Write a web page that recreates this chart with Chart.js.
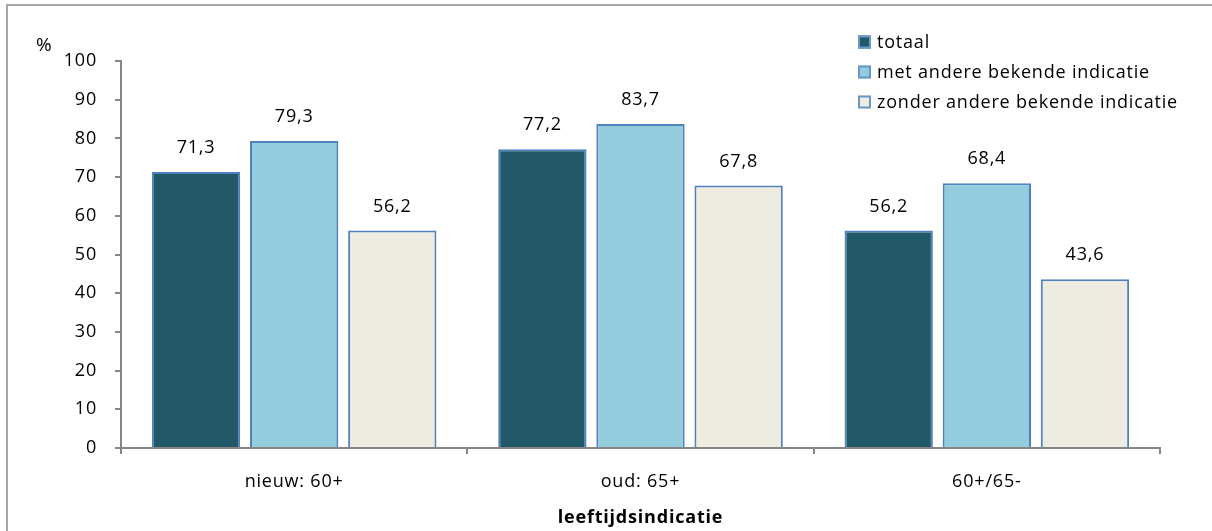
<!DOCTYPE html>
<html>
<head>
<meta charset="utf-8">
<script src="https://cdn.jsdelivr.net/npm/chart.js@4.4.1/dist/chart.umd.min.js"></script>
<style>
  html, body { margin: 0; padding: 0; background: #fff; overflow: hidden; }
  #wrap { position: relative; width: 1212px; height: 531px; }
  #frame { position: absolute; left: 6px; top: 4px; width: 1300px; height: 600px;
           border: 2px solid #a6a6a6; box-sizing: border-box; pointer-events: none; }
  canvas { position: absolute; left: 0; top: 0; }
</style>
</head>
<body>
<div id="wrap">
  <canvas id="c" width="1212" height="531"></canvas>
  <div id="frame"></div>
</div>
<script>
// Categories (age indication) and the three series, in percent
const categories = ['nieuw: 60+', 'oud: 65+', '60+/65-'];
const seriesNames = ['totaal', 'met andere bekende indicatie', 'zonder andere bekende indicatie'];
const totaal = [71.3, 77.2, 56.2];
const metIndicatie = [79.3, 83.7, 68.4];
const zonderIndicatie = [56.2, 67.8, 43.6];
const yTicks = [0, 10, 20, 30, 40, 50, 60, 70, 80, 90, 100];

const FONT = "'Open Sans', sans-serif";
const fills = ['#215968', '#93CDDD', '#EEECE1'];
const edge = '#4F81BD';
const axisGrey = '#868686';

const fmt = v => v.toFixed(1).replace('.', ',');

// Slightly open letter spacing for all chart text
const spacing = {
  id: 'spacing',
  beforeDraw(chart) { chart.ctx.letterSpacing = '0.8px'; }
};

// Value labels above each bar, plus the "%" unit and the legend
const decorations = {
  id: 'decorations',
  afterDatasetsDraw(chart) {
    const ctx = chart.ctx;
    ctx.save();
    ctx.letterSpacing = '0.8px';
    ctx.fillStyle = '#000';
    ctx.font = '18px ' + FONT;
    ctx.textAlign = 'center';
    ctx.textBaseline = 'alphabetic';
    chart.data.datasets.forEach((ds, i) => {
      chart.getDatasetMeta(i).data.forEach((bar, j) => {
        ctx.fillText(fmt(ds.data[j]), bar.x, bar.y - 19);
      });
    });

    // unit label
    ctx.font = '19px ' + FONT;
    ctx.textAlign = 'left';
    ctx.textBaseline = 'middle';
    ctx.fillText('%', 36, 46);

    // legend
    ctx.font = '18px ' + FONT;
    const lx = 858, ly = [42, 72, 102];
    chart.data.datasets.forEach((ds, i) => {
      ctx.fillStyle = ds.backgroundColor;
      ctx.fillRect(lx, ly[i] - 6.5, 13, 13);
      ctx.strokeStyle = '#6b96c8';
      ctx.lineWidth = 2;
      ctx.strokeRect(lx + 1, ly[i] - 5.5, 11, 11);
      ctx.fillStyle = '#000';
      ctx.fillText(ds.label, 877, ly[i] + 1);
    });
    ctx.restore();
  }
};

new Chart(document.getElementById('c'), {
  type: 'bar',
  data: {
    labels: categories,
    datasets: [totaal, metIndicatie, zonderIndicatie].map((d, i) => ({
      label: seriesNames[i],
      data: d,
      backgroundColor: fills[i],
      borderColor: edge,
      borderWidth: 2,
      borderSkipped: 'bottom',
      categoryPercentage: 0.85,
      barPercentage: 0.9
    }))
  },
  options: {
    responsive: false,
    animation: false,
    devicePixelRatio: 1,
    layout: { padding: { left: 0, right: 52, top: 61, bottom: 0 } },
    plugins: { legend: { display: false }, tooltip: { enabled: false } },
    scales: {
      y: {
        min: 0, max: 100,
        afterBuildTicks(scale) { scale.ticks = yTicks.map(v => ({ value: v })); },
        afterFit(scale) { scale.width = 121; },
        ticks: { color: '#000', font: { family: FONT, size: 18 }, padding: 18 },
        grid: { drawOnChartArea: false, drawTicks: true, tickLength: 6, color: axisGrey, lineWidth: 2 },
        border: { color: axisGrey, width: 2 }
      },
      x: {
        afterFit(scale) { scale.height = 83; },
        ticks: { color: '#000', font: { family: FONT, size: 18 }, padding: 17 },
        grid: { drawOnChartArea: false, drawTicks: true, tickLength: 6, color: axisGrey, lineWidth: 2, offset: true },
        border: { color: axisGrey, width: 2 },
        title: {
          display: true, text: 'leeftijdsindicatie', color: '#000',
          font: { family: FONT, size: 18, weight: 'bold' }, padding: { top: 0, bottom: 2 }
        }
      }
    }
  },
  plugins: [spacing, decorations]
});
</script>
</body>
</html>
